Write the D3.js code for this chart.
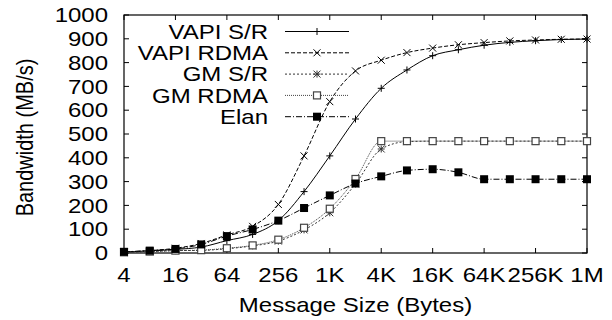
<!DOCTYPE html>
<html><head><meta charset="utf-8">
<script src="https://cdn.jsdelivr.net/npm/d3@7"></script>
<style>body{margin:0;background:#fff}svg{display:block}text{font-family:"Liberation Sans",Arial,sans-serif;fill:#000}</style>
</head><body><svg id="c" width="612" height="320"></svg>
<script>
const sizes = [4,8,16,32,64,128,256,512,1024,2048,4096,8192,16384,32768,65536,131072,262144,524288,1048576];
const tickValues = [4,16,64,256,1024,4096,16384,65536,262144,1048576];
const tickLabels = ["4","16","64","256","1K","4K","16K","64K","256K","1M"];
const yTicks = [0,100,200,300,400,500,600,700,800,900,1000];
const seriesNames = ["VAPI S/R","VAPI RDMA","GM S/R","GM RDMA","Elan"];
const vapiSR   = [4,9,15,25,52,78,136,258,408,563,692,769,829,854,873,885,892,897,899];
const vapiRDMA = [4,10,20,40,76,112,204,408,636,765,810,842,861,875,884,891,895,898,899];
const gmSR     = [3,6,10,11,18,30,50,97,169,290,437,468,470,470,470,470,470,470,470];
const gmRDMA   = [3,6,10,12,20,32,56,106,186,311,470,470,470,470,470,470,470,470,470];
const elan     = [5,10,17,36,71,99,136,189,242,292,322,347,352,339,310,310,310,310,310];
const seriesValues = [vapiSR, vapiRDMA, gmSR, gmRDMA, elan];

const styles = [
  {dash:null, color:"#000", marker:"plus"},
  {dash:"4,2", color:"#000", marker:"cross"},
  {dash:"2,2", color:"#333", marker:"star"},
  {dash:"1,1", color:"#444", marker:"osq"},
  {dash:"6,2,1,2", color:"#000", marker:"fsq"}
];

const svg = d3.select("#c");
const L=124, R=587, T=15, B=253;
const x = d3.scaleLog().base(2).domain([4,1048576]).range([L,R]);
const y = d3.scaleLinear().domain([0,1000]).range([B,T]);
const FS = 20, SX = 1.2;

function label(parent, tx, ty, str, anchor, rot, dy){
  return parent.append("text")
    .attr("transform", `translate(${tx},${ty}) scale(${SX},1)` + (rot ? ` rotate(${rot})` : ""))
    .attr("text-anchor", anchor).attr("dy", dy || null)
    .attr("font-size", FS).text(str);
}

const tk = 5;
const g = svg.append("g");
yTicks.forEach(v=>{
  g.append("line").attr("x1",L).attr("x2",L+tk).attr("y1",y(v)).attr("y2",y(v)).attr("stroke","#000");
  g.append("line").attr("x1",R).attr("x2",R-tk).attr("y1",y(v)).attr("y2",y(v)).attr("stroke","#000");
  label(g, 108, y(v), String(v), "end", 0, "0.36em");
});
tickValues.forEach((v,i)=>{
  g.append("line").attr("x1",x(v)).attr("x2",x(v)).attr("y1",B).attr("y2",B-tk).attr("stroke","#000");
  g.append("line").attr("x1",x(v)).attr("x2",x(v)).attr("y1",T).attr("y2",T+tk).attr("stroke","#000");
  label(g, x(v), 281.5, tickLabels[i], "middle");
});
svg.append("rect").attr("x",L).attr("y",T).attr("width",R-L).attr("height",B-T).attr("fill","none").attr("stroke","#000").attr("stroke-width",1.2);

label(svg, (L+R)/2, 312, "Message Size (Bytes)", "middle");
label(svg, 33, 137.5, "Bandwidth (MB/s)", "middle", -90);

function marker(sel, type, cx, cy, color){
  const s=3.5;
  if(type==="plus"||type==="star"){
    sel.append("path").attr("d",`M${cx-s},${cy}H${cx+s}M${cx},${cy-s}V${cy+s}`).attr("stroke",color).attr("stroke-width",1);
  }
  if(type==="cross"||type==="star"){
    sel.append("path").attr("d",`M${cx-s},${cy-s}L${cx+s},${cy+s}M${cx-s},${cy+s}L${cx+s},${cy-s}`).attr("stroke",color).attr("stroke-width",1);
  }
  if(type==="osq"){
    sel.append("rect").attr("x",cx-3.5).attr("y",cy-3.5).attr("width",7).attr("height",7).attr("fill","#fff").attr("stroke",color).attr("stroke-width",1.2);
  }
  if(type==="fsq"){
    sel.append("rect").attr("x",cx-4).attr("y",cy-4).attr("width",8).attr("height",8).attr("fill","#000");
  }
}

const line = d3.line().x(d=>x(d[0])).y(d=>y(d[1])).curve(d3.curveMonotoneX);
seriesValues.forEach((vals,i)=>{
  const st=styles[i];
  const data = sizes.map((s,j)=>[s,vals[j]]);
  const gs = svg.append("g");
  gs.append("path").datum(data).attr("d",line).attr("fill","none").attr("stroke",st.color).attr("stroke-width",1).attr("stroke-dasharray",st.dash);
  data.forEach(d=>marker(gs, st.marker, x(d[0]), y(d[1]), st.color));
});

const legY = [31.5,52.8,74.1,95.4,116.7];
seriesNames.forEach((n,i)=>{
  const st=styles[i];
  const lg=svg.append("g");
  label(lg, 268, legY[i], n, "end", 0, "0.36em");
  lg.append("line").attr("x1",285).attr("x2",349).attr("y1",legY[i]).attr("y2",legY[i]).attr("stroke",st.color).attr("stroke-width",1).attr("stroke-dasharray",st.dash);
  marker(lg, st.marker, 317, legY[i], st.color);
});
</script></body></html>
